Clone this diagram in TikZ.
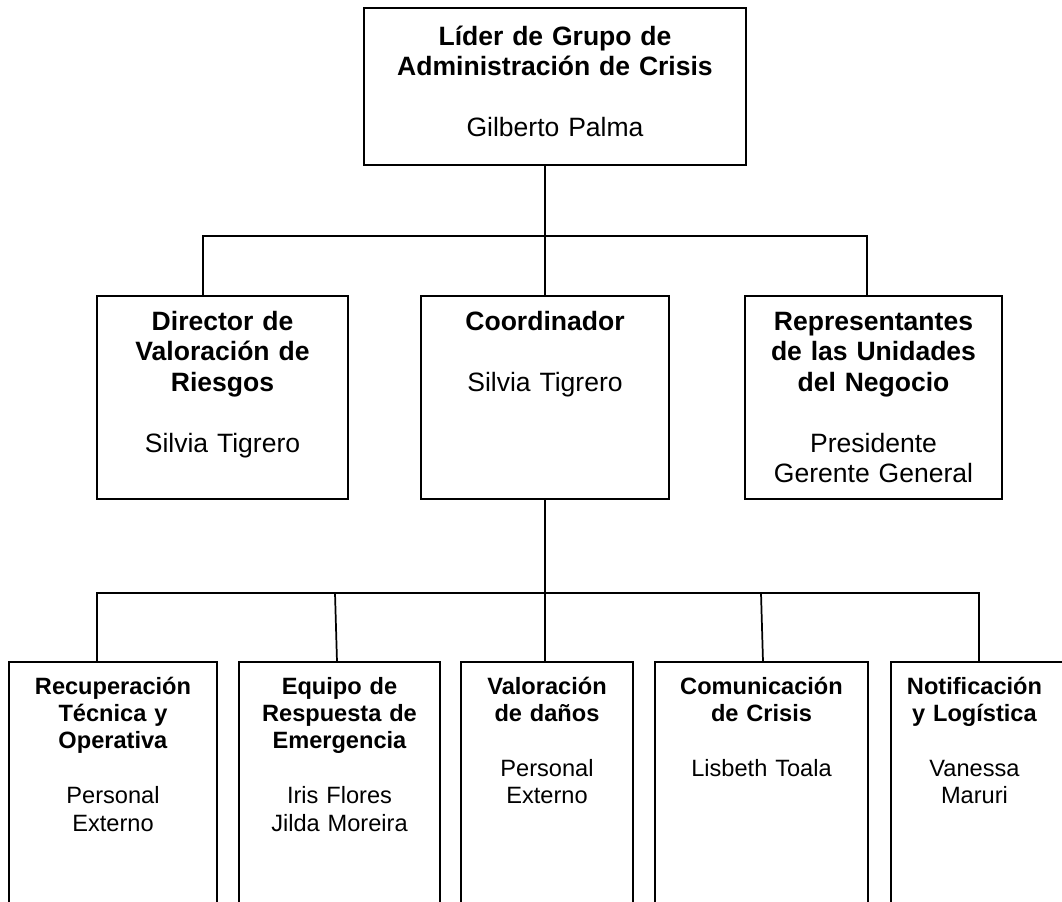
\documentclass[tikz,border=0pt]{standalone}
\usepackage{fontspec}
\setmainfont{Liberation Sans}
\usetikzlibrary{fit}
\begin{document}
\begin{tikzpicture}[x=0.75pt,y=-0.75pt,
  box/.style={draw=black, line width=1.3pt, inner sep=0pt, outer sep=0pt},
  conn/.style={draw=black, line width=1.3pt, line join=miter},
  bigtxt/.style={anchor=base, align=center, text width=270pt, inner sep=0pt,
    font=\fontsize{19.9pt}{22.9pt}\selectfont},
  smalltxt/.style={anchor=base, align=center, text width=200pt, inner sep=0pt,
    font=\fontsize{17.7pt}{20.6pt}\selectfont},
]
\useasboundingbox (0,0) rectangle (1062,901);
\clip (0,0) rectangle (1062,901);

% boxes
\node[box, fit={(364,8) (746,165)}] (T) {};
\node[box, fit={(97,296) (348,499)}] (M1) {};
\node[box, fit={(421,296) (669,499)}] (M2) {};
\node[box, fit={(745,296) (1002,499)}] (M3) {};
\node[box, fit={(9,662) (217,930)}] (B1) {};
\node[box, fit={(239,662) (440,930)}] (B2) {};
\node[box, fit={(461,662) (633,930)}] (B3) {};
\node[box, fit={(655,662) (868,930)}] (B4) {};
\node[box, fit={(891,662) (1080,930)}] (B5) {};

% texts
\node[bigtxt] (tT) at (555,45) {\textbf{Líder de Grupo de}\\\textbf{Administración de Crisis}\\[22.9pt]Gilberto Palma};
\node[bigtxt] (tM1) at (222.5,330) {\textbf{Director de}\\\textbf{Valoración de}\\\textbf{Riesgos}\\[22.9pt]Silvia Tigrero};
\node[bigtxt] (tM2) at (545,330) {\textbf{Coordinador}\\[22.9pt]Silvia Tigrero};
\node[bigtxt] (tM3) at (873.5,330) {\textbf{Representantes}\\\textbf{de las Unidades}\\\textbf{del Negocio}\\[22.9pt]Presidente\\Gerente General};
\node[smalltxt] (tB1) at (113,694) {\textbf{Recuperación}\\\textbf{Técnica y}\\\textbf{Operativa}\\[20.6pt]Personal\\Externo};
\node[smalltxt] (tB2) at (339.5,694) {\textbf{Equipo de}\\\textbf{Respuesta de}\\\textbf{Emergencia}\\[20.6pt]Iris Flores\\Jilda Moreira};
\node[smalltxt] (tB3) at (547,694) {\textbf{Valoración}\\\textbf{de daños}\\[20.6pt]Personal\\Externo};
\node[smalltxt] (tB4) at (761.5,694) {\textbf{Comunicación}\\\textbf{de Crisis}\\[20.6pt]Lisbeth Toala};
\node[smalltxt] (tB5) at (974.5,694) {\textbf{Notificación}\\\textbf{y Logística}\\[20.6pt]Vanessa\\Maruri};

% junction coordinates
\coordinate (jT) at (545,236);
\coordinate (hL) at (203,236);
\coordinate (hR) at (867,236);
\coordinate (jB) at (545,593);
\coordinate (gL) at (97,593);
\coordinate (gR) at (979,593);
\coordinate (g2) at (335,593);
\coordinate (g2b) at (337,662);
\coordinate (g4) at (761,593);
\coordinate (g4b) at (763,662);

% connectors
\draw[conn] (T.south -| jT) -- (M2.north -| jT);
\draw[conn] (hL |- M1.north) -- (hL) -- (hR) -- (hR |- M3.north);
\draw[conn] (M2.south -| jB) -- (B3.north -| jB);
\draw[conn] (gL |- B1.north) -- (gL) -- (gR) -- (gR |- B5.north);
\draw[conn] (g2) -- (g2b);
\draw[conn] (g4) -- (g4b);
\end{tikzpicture}
\end{document}
